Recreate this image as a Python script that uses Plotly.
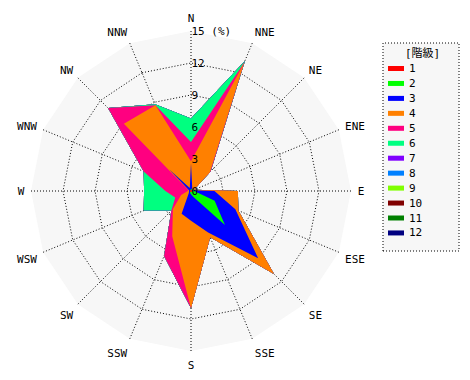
import numpy as np
import plotly.graph_objects as go

directions = ["N", "NNE", "NE", "ENE", "E", "ESE", "SE", "SSE",
              "S", "SSW", "SW", "WSW", "W", "WNW", "NW", "NNW"]
class_labels = ["1", "2", "3", "4", "5", "6", "7", "8", "9", "10", "11", "12"]
class_colors = ["#ff0000", "#00ff00", "#0000ff", "#ff8000", "#ff0080", "#00ff80",
                "#8000ff", "#0080ff", "#80ff00", "#800000", "#008000", "#000080"]
legend_title = "[階級]"

# frequency (%) per class and direction
c1 = [0.1, 0.1, 0.1, 0.1, 0.1, 0.1, 0.1, 0.1, 0.1, 0.1, 0.1, 0.1, 0.1, 0.1, 0.1, 0.1]
c2 = [0.1, 0.1, 0.0, 0.0, 0.2, 2.3, 4.4, 0.5, 0.2, 0.1, 0.0, 0.0, 0.0, 0.0, 0.0, 0.0]
c3 = [2.4, 0.1, 0.1, 0.1, 1.9, 2.1, 4.4, 3.6, 2.5, 2.1, 0.2, 0.1, 0.1, 0.1, 2.8, 0.2]
c4 = [0.2, 12.7, 2.3, 0.1, 2.2, 0.3, 2.1, 0.5, 8.2, 2.3, 2.1, 0.8, 0.1, 0.1, 6.0, 8.4]
c5 = [1.8, 0.1, 0.1, 0.0, 0.0, 0.0, 0.0, 0.0, 0.0, 2.0, 0.2, 0.6, 2.1, 4.5, 2.1, 0.0]
c6 = [2.2, 0.1, 0.0, 0.0, 0.0, 0.0, 0.0, 0.0, 0.0, 0.0, 0.0, 3.2, 2.0, 0.0, 0.0, 0.1]
c7 = [0.0] * 16
c8 = [0.0] * 16
c9 = [0.0] * 16
c10 = [0.0] * 16
c11 = [0.0] * 16
c12 = [0.0] * 16
classes = [c1, c2, c3, c4, c5, c6, c7, c8, c9, c10, c11, c12]

r_ticks = [0, 3, 6, 9, 12, 15]
r_ticktext = ["0", "3", "6", "9", "12", "15 (%)"]

cum = np.round(np.cumsum(np.array(classes), axis=0), 3)

FONT = "DejaVu Sans Mono, Noto Sans CJK JP, monospace"
W, H = 470, 380

fig = go.Figure()
for k in range(len(classes) - 1, -1, -1):
    r = list(cum[k]) + [cum[k][0]]
    th = directions + [directions[0]]
    fig.add_trace(go.Scatterpolar(
        r=r, theta=th, mode="lines", fill="toself",
        fillcolor=class_colors[k], line=dict(width=0, color=class_colors[k]),
        name=class_labels[k], hoverinfo="skip", showlegend=False))

# legend box (drawn manually: dotted frame, compact rows)
shapes = [dict(type="rect", xref="paper", yref="paper",
               x0=375 / W, x1=451 / W, y0=1 - 243 / H, y1=1 - 35 / H,
               line=dict(color="black", width=1, dash="1px,2px"),
               fillcolor="#f7f7f7", layer="below")]
annotations = [dict(text=legend_title, xref="paper", yref="paper",
                    x=414 / W, y=1 - 45 / H, xanchor="center", yanchor="middle",
                    showarrow=False, font=dict(family=FONT, size=11))]
row0, step = 60.5, 14.95
for i, (lab, col) in enumerate(zip(class_labels, class_colors)):
    yc = row0 + step * i
    shapes.append(dict(type="rect", xref="paper", yref="paper",
                       x0=380 / W, x1=396 / W, y0=1 - (yc + 2.5) / H, y1=1 - (yc - 2.5) / H,
                       line=dict(width=0), fillcolor=col, layer="above"))
    annotations.append(dict(text=lab, xref="paper", yref="paper",
                            x=399 / W, y=1 - yc / H, xanchor="left", yanchor="middle",
                            showarrow=False, font=dict(family=FONT, size=11)))

dx, dy = -7, 6
fig.update_layout(
    width=W, height=H,
    margin=dict(l=0, r=0, t=0, b=0),
    paper_bgcolor="white",
    font=dict(family=FONT, size=11, color="black"),
    polar=dict(
        domain=dict(x=[(30 + dx) / W, (350 + dx) / W],
                    y=[1 - (349 - dy) / H, 1 - (29 - dy) / H]),
        bgcolor="#f7f7f7",
        gridshape="linear",
        radialaxis=dict(range=[0, 15], tickvals=r_ticks, ticktext=r_ticktext,
                        angle=90, tickangle=90, showline=False, ticks="",
                        gridcolor="black", griddash="1px,2px", gridwidth=1,
                        layer="above traces",
                        tickfont=dict(family=FONT, size=11)),
        angularaxis=dict(type="category", categoryarray=directions,
                         direction="clockwise", rotation=90, showline=False,
                         ticks="outside", ticklen=4, tickcolor="rgba(0,0,0,0)",
                         gridcolor="black", griddash="1px,2px", gridwidth=1,
                         layer="above traces",
                         tickfont=dict(family=FONT, size=11)),
    ),
    showlegend=False,
    shapes=shapes,
    annotations=annotations,
)

fig.write_html("out.html")
